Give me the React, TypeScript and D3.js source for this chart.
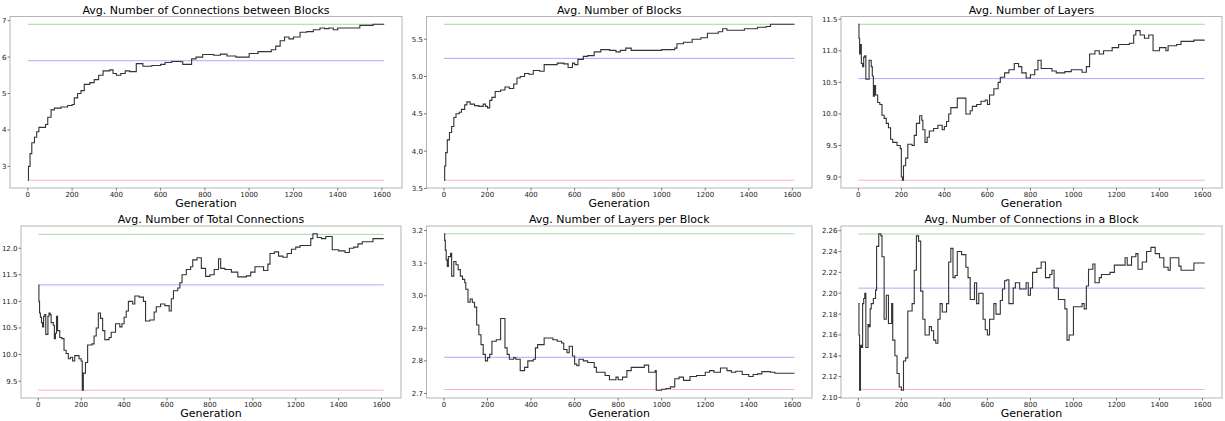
import React from 'react';
import * as d3 from 'd3';

// [generation, value] pairs (step series)
const connBetweenBlocks: [number, number][] = [
  [0, 2.62], [3, 3.0], [10, 3.35], [18, 3.65], [30, 3.8], [40, 3.95], [50, 4.07], [70, 4.07],
  [80, 4.15], [90, 4.35], [105, 4.55], [120, 4.6], [150, 4.63], [180, 4.67], [200, 4.7],
  [210, 4.88], [225, 5.0], [240, 5.08], [255, 5.25], [280, 5.3], [300, 5.38], [320, 5.5],
  [340, 5.62], [370, 5.65], [385, 5.55], [400, 5.5], [420, 5.55], [440, 5.62], [460, 5.6],
  [490, 5.82], [520, 5.75], [560, 5.77], [600, 5.8], [620, 5.85], [650, 5.88], [690, 5.87],
  [700, 5.8], [730, 5.8], [740, 5.95], [760, 6.0], [790, 6.07], [840, 6.05], [870, 6.08],
  [900, 6.03], [940, 6.0], [1000, 6.1], [1040, 6.15], [1080, 6.15], [1100, 6.2], [1120, 6.3],
  [1140, 6.45], [1160, 6.55], [1180, 6.5], [1200, 6.55], [1230, 6.68], [1260, 6.7],
  [1290, 6.75], [1320, 6.8], [1340, 6.78], [1360, 6.8], [1380, 6.75], [1400, 6.8],
  [1480, 6.8], [1500, 6.87], [1560, 6.9], [1610, 6.9],
];

const numBlocks: [number, number][] = [
  [0, 3.61], [3, 3.8], [8, 3.98], [15, 4.15], [25, 4.25], [35, 4.33], [45, 4.45], [55, 4.5],
  [70, 4.52], [80, 4.56], [95, 4.62], [105, 4.66], [120, 4.63], [140, 4.61], [160, 4.6],
  [180, 4.63], [190, 4.6], [200, 4.58], [210, 4.68], [220, 4.72], [235, 4.8], [260, 4.82],
  [280, 4.86], [300, 4.84], [320, 4.9], [335, 4.98], [350, 5.0], [370, 5.04], [390, 5.03],
  [410, 5.08], [440, 5.07], [460, 5.16], [500, 5.16], [520, 5.18], [550, 5.17], [570, 5.12],
  [590, 5.18], [600, 5.16], [615, 5.23], [640, 5.27], [660, 5.28], [690, 5.33], [720, 5.36],
  [760, 5.35], [790, 5.33], [810, 5.35], [835, 5.38], [860, 5.35], [1000, 5.36], [1060, 5.38],
  [1070, 5.44], [1100, 5.46], [1140, 5.5], [1180, 5.52], [1210, 5.58], [1260, 5.6],
  [1280, 5.64], [1300, 5.62], [1380, 5.64], [1440, 5.66], [1480, 5.67], [1500, 5.7], [1610, 5.7],
];

const numLayers: [number, number][] = [
  [0, 11.42], [3, 11.2], [6, 10.95], [10, 11.1], [14, 10.8], [20, 10.75], [25, 10.9],
  [30, 10.92], [35, 10.55], [45, 10.55], [50, 10.85], [60, 10.75], [65, 10.6], [70, 10.28],
  [75, 10.45], [80, 10.3], [90, 10.18], [100, 10.15], [110, 9.98], [120, 9.93], [130, 9.85],
  [140, 9.78], [150, 9.6], [160, 9.55], [180, 9.5], [195, 9.45], [200, 9.0], [205, 8.95],
  [210, 9.18], [220, 9.3], [230, 9.52], [250, 9.5], [260, 9.66], [270, 9.85], [285, 9.97],
  [295, 9.9], [300, 9.75], [310, 9.55], [320, 9.63], [330, 9.73], [350, 9.77], [370, 9.82],
  [390, 9.75], [400, 9.8], [410, 9.88], [420, 10.0], [430, 10.1], [460, 10.25], [490, 10.25],
  [500, 10.0], [520, 10.05], [530, 10.12], [550, 10.15], [570, 10.2], [590, 10.22], [600, 10.15],
  [610, 10.3], [630, 10.4], [650, 10.5], [660, 10.58], [680, 10.65], [700, 10.7], [725, 10.8],
  [745, 10.75], [760, 10.65], [780, 10.57], [800, 10.62], [820, 10.7], [835, 10.85],
  [850, 10.72], [880, 10.72], [900, 10.68], [920, 10.65], [960, 10.67], [990, 10.7],
  [1040, 10.66], [1060, 10.75], [1075, 10.95], [1100, 11.0], [1120, 10.95], [1140, 11.0],
  [1180, 11.05], [1210, 11.1], [1260, 11.12], [1280, 11.25], [1290, 11.32], [1310, 11.25],
  [1330, 11.2], [1350, 11.25], [1370, 11.0], [1400, 11.05], [1430, 11.0], [1440, 11.08],
  [1480, 11.1], [1500, 11.15], [1560, 11.17], [1610, 11.17],
];

const totalConnections: [number, number][] = [
  [0, 11.3], [3, 11.0], [6, 10.78], [10, 10.7], [15, 10.6], [20, 10.52], [25, 10.72],
  [30, 10.75], [35, 10.38], [45, 10.72], [50, 10.78], [55, 10.75], [60, 10.6], [70, 10.55],
  [75, 10.3], [80, 10.4], [85, 10.72], [90, 10.45], [100, 10.32], [110, 10.3], [120, 10.08],
  [130, 10.02], [140, 9.92], [150, 9.95], [160, 9.88], [170, 9.98], [190, 9.92], [200, 9.88],
  [205, 9.33], [210, 9.65], [220, 9.85], [230, 10.18], [250, 10.2], [260, 10.35], [270, 10.5],
  [280, 10.78], [290, 10.68], [300, 10.45], [310, 10.28], [330, 10.32], [340, 10.42],
  [360, 10.58], [380, 10.52], [390, 10.58], [400, 10.7], [410, 10.82], [420, 11.0],
  [440, 10.95], [450, 11.1], [470, 11.08], [490, 11.0], [500, 10.63], [520, 10.65],
  [540, 10.8], [550, 10.9], [570, 10.95], [590, 10.92], [610, 10.82], [620, 11.05],
  [630, 11.2], [650, 11.25], [660, 11.35], [670, 11.5], [690, 11.6], [710, 11.65],
  [720, 11.78], [740, 11.82], [760, 11.62], [780, 11.47], [800, 11.5], [820, 11.6],
  [840, 11.8], [850, 11.62], [870, 11.6], [900, 11.55], [930, 11.46], [970, 11.48],
  [990, 11.55], [1010, 11.65], [1050, 11.58], [1070, 11.7], [1080, 11.9], [1100, 11.93],
  [1120, 11.85], [1140, 11.83], [1160, 11.9], [1180, 11.98], [1200, 12.02], [1220, 12.05],
  [1270, 12.18], [1280, 12.27], [1300, 12.2], [1320, 12.18], [1340, 12.22], [1370, 11.97],
  [1400, 11.95], [1430, 11.92], [1450, 12.0], [1470, 12.02], [1490, 12.08], [1510, 12.12],
  [1560, 12.18], [1610, 12.18],
];

const layersPerBlock: [number, number][] = [
  [0, 3.19], [3, 3.17], [6, 3.14], [10, 3.11], [15, 3.09], [20, 3.12], [30, 3.13], [35, 3.06],
  [45, 3.105], [55, 3.095], [65, 3.08], [75, 3.06], [85, 3.05], [95, 3.04], [100, 3.02],
  [110, 2.98], [120, 2.99], [130, 2.98], [140, 2.965], [150, 2.91], [160, 2.88], [170, 2.85],
  [180, 2.82], [190, 2.8], [200, 2.81], [210, 2.82], [220, 2.86], [240, 2.865], [260, 2.93],
  [280, 2.84], [290, 2.82], [300, 2.805], [320, 2.81], [330, 2.805], [350, 2.77], [370, 2.78],
  [385, 2.8], [410, 2.805], [420, 2.84], [430, 2.85], [460, 2.87], [500, 2.865], [520, 2.86],
  [540, 2.855], [550, 2.835], [565, 2.825], [575, 2.845], [590, 2.815], [600, 2.79],
  [610, 2.785], [620, 2.805], [640, 2.8], [660, 2.795], [690, 2.78], [700, 2.765],
  [740, 2.755], [760, 2.742], [790, 2.75], [800, 2.742], [820, 2.75], [840, 2.77], [860, 2.78],
  [920, 2.787], [940, 2.765], [970, 2.77], [975, 2.71], [1000, 2.713], [1020, 2.715],
  [1040, 2.72], [1060, 2.745], [1080, 2.75], [1100, 2.74], [1130, 2.752], [1160, 2.755],
  [1200, 2.765], [1220, 2.77], [1240, 2.765], [1270, 2.778], [1300, 2.77], [1320, 2.765],
  [1340, 2.768], [1370, 2.758], [1400, 2.752], [1420, 2.758], [1440, 2.76], [1460, 2.767],
  [1500, 2.765], [1520, 2.762], [1610, 2.762],
];

const connInBlock: [number, number][] = [
  [0, 2.19], [3, 2.16], [6, 2.107], [10, 2.15], [15, 2.148], [20, 2.19], [25, 2.195], [30, 2.2],
  [35, 2.148], [45, 2.17], [50, 2.168], [55, 2.185], [60, 2.19], [70, 2.195], [80, 2.203],
  [85, 2.245], [95, 2.257], [105, 2.255], [110, 2.235], [120, 2.175], [130, 2.198],
  [140, 2.171], [155, 2.19], [160, 2.155], [170, 2.14], [180, 2.123], [190, 2.11], [200, 2.107],
  [210, 2.135], [220, 2.138], [230, 2.183], [250, 2.19], [260, 2.222], [270, 2.255],
  [280, 2.25], [290, 2.202], [300, 2.175], [310, 2.16], [330, 2.168], [340, 2.164],
  [350, 2.155], [360, 2.152], [370, 2.175], [380, 2.19], [390, 2.182], [410, 2.19], [420, 2.23],
  [430, 2.243], [440, 2.215], [450, 2.217], [460, 2.24], [480, 2.237], [500, 2.225],
  [510, 2.215], [520, 2.194], [540, 2.21], [550, 2.19], [560, 2.2], [580, 2.175], [590, 2.165],
  [600, 2.16], [610, 2.175], [630, 2.19], [640, 2.18], [660, 2.193], [670, 2.204], [680, 2.212],
  [690, 2.213], [700, 2.19], [720, 2.205], [730, 2.21], [750, 2.204], [780, 2.21], [790, 2.198],
  [800, 2.205], [810, 2.22], [830, 2.224], [850, 2.23], [870, 2.215], [890, 2.218],
  [900, 2.222], [910, 2.205], [930, 2.194], [960, 2.185], [970, 2.155], [980, 2.16],
  [1000, 2.187], [1040, 2.19], [1050, 2.185], [1060, 2.207], [1070, 2.223], [1090, 2.228],
  [1100, 2.21], [1120, 2.215], [1130, 2.218], [1170, 2.22], [1190, 2.227], [1240, 2.234],
  [1250, 2.227], [1270, 2.235], [1290, 2.238], [1300, 2.223], [1320, 2.23], [1340, 2.24],
  [1360, 2.244], [1380, 2.238], [1400, 2.234], [1420, 2.225], [1440, 2.222], [1450, 2.234],
  [1490, 2.226], [1500, 2.222], [1560, 2.229], [1610, 2.229],
];

const titles = [
  'Avg. Number of Connections between Blocks',
  'Avg. Number of Blocks',
  'Avg. Number of Layers',
  'Avg. Number of Total Connections',
  'Avg. Number of Layers per Block',
  'Avg. Number of Connections in a Block',
];
const seriesList = [connBetweenBlocks, numBlocks, numLayers, totalConnections, layersPerBlock, connInBlock];
const maxLines = [6.9, 5.7, 11.42, 12.26, 3.19, 2.2568];
const meanLines = [5.9, 5.243, 10.56, 11.31, 2.811, 2.2049];
const minLines = [2.62, 3.61, 8.95, 9.33, 2.712, 2.1077];
const yTickValues = [
  [3, 4, 5, 6, 7],
  [3.5, 4.0, 4.5, 5.0, 5.5],
  [9.0, 9.5, 10.0, 10.5, 11.0, 11.5],
  [9.5, 10.0, 10.5, 11.0, 11.5, 12.0],
  [2.7, 2.8, 2.9, 3.0, 3.1, 3.2],
  [2.10, 2.12, 2.14, 2.16, 2.18, 2.20, 2.22, 2.24, 2.26],
];
const yTickFormats = ['d', '.1f', '.1f', '.1f', '.1f', '.2f'];
const xTickValues = [0, 200, 400, 600, 800, 1000, 1200, 1400, 1600];
const lastGen = 1610;

// axes box positions
const boxes = [
  { x0: 10, x1: 402, y0: 16.5, y1: 188 },
  { x0: 426.5, x1: 812, y0: 16.5, y1: 188 },
  { x0: 841, x1: 1222, y0: 16.5, y1: 188 },
  { x0: 21, x1: 401, y0: 226, y1: 398 },
  { x0: 426.5, x1: 812, y0: 226, y1: 398 },
  { x0: 841, x1: 1222, y0: 226, y1: 398 },
];

const font = 'DejaVu Sans, sans-serif';

const Panel: React.FC<{ i: number }> = ({ i }) => {
  const b = boxes[i];
  const data = seriesList[i];
  const allVals = [...data.map(d => d[1]), maxLines[i], meanLines[i], minLines[i]];
  const [lo, hi] = d3.extent(allVals) as [number, number];
  const pad = (hi - lo) * 0.05;
  const xPad = lastGen * 0.05;
  const x = d3.scaleLinear().domain([-xPad, lastGen + xPad]).range([b.x0, b.x1]);
  const y = d3.scaleLinear().domain([lo - pad, hi + pad]).range([b.y1, b.y0]);
  const line = d3.line<[number, number]>()
    .x(d => x(d[0]))
    .y(d => y(d[1]))
    .curve(d3.curveStepAfter);
  const fmt = d3.format(yTickFormats[i]);
  const refs: [number, string][] = [
    [maxLines[i], '#a6d9a6'],
    [meanLines[i], '#aaaaff'],
    [minLines[i], '#ffb3b3'],
  ];
  const cx = (b.x0 + b.x1) / 2;
  return (
    <g>
      <text x={cx} y={b.y0 - 3} textAnchor="middle" fontSize={11} fontFamily={font} fill="#000">
        {titles[i]}
      </text>
      {refs.map(([v, c], k) => (
        <line key={k} x1={x(0)} x2={x(lastGen)} y1={y(v)} y2={y(v)} stroke={c} strokeWidth={1} />
      ))}
      <path d={line(data) || ''} fill="none" stroke="#333" strokeWidth={1.1} />
      <rect x={b.x0} y={b.y0} width={b.x1 - b.x0} height={b.y1 - b.y0} fill="none" stroke="#b5b5b5" strokeWidth={1} />
      {xTickValues.map(t => (
        <g key={t}>
          <line x1={x(t)} x2={x(t)} y1={b.y1} y2={b.y1 + 2.5} stroke="#555" strokeWidth={0.8} />
          <text x={x(t)} y={b.y1 + 9} textAnchor="middle" fontSize={7} fontFamily={font} fill="#222">
            {t}
          </text>
        </g>
      ))}
      {yTickValues[i].map(t => (
        <g key={t}>
          <line x1={b.x0 - 2.5} x2={b.x0} y1={y(t)} y2={y(t)} stroke="#555" strokeWidth={0.8} />
          <text x={b.x0 - 3.5} y={y(t) + 2.5} textAnchor="end" fontSize={7} fontFamily={font} fill="#222">
            {fmt(t)}
          </text>
        </g>
      ))}
      <text x={cx} y={b.y1 + 19} textAnchor="middle" fontSize={11} fontFamily={font} fill="#000">
        Generation
      </text>
    </g>
  );
};

export default function App() {
  return (
    <svg width={1225} height={421} style={{ position: 'absolute', left: 0, top: 0, background: '#fff' }}>
      <rect width={1225} height={421} fill="#fff" />
      {titles.map((_, i) => <Panel key={i} i={i} />)}
    </svg>
  );
}
